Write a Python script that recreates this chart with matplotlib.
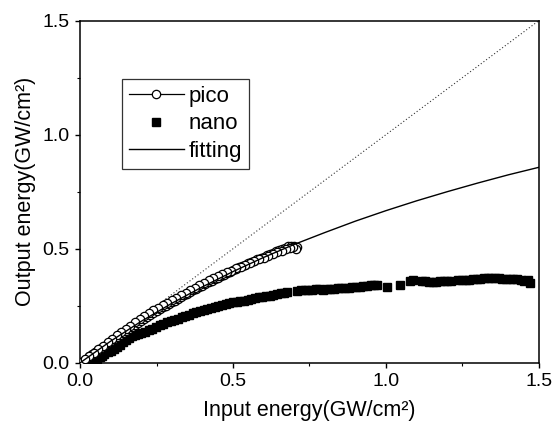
import matplotlib
matplotlib.use("Agg")
import matplotlib.pyplot as plt

# ---------------- data ----------------
pico_x = [0.010, 0.020, 0.030, 0.040, 0.050, 0.060, 0.070, 0.080, 0.090, 0.100,
          0.110, 0.120, 0.130, 0.140, 0.150, 0.160, 0.170, 0.180, 0.190, 0.200,
          0.210, 0.220, 0.230, 0.240, 0.250, 0.260, 0.270, 0.280, 0.290, 0.300,
          0.310, 0.320, 0.330, 0.340, 0.350, 0.360, 0.370, 0.380, 0.390, 0.400,
          0.410, 0.420, 0.430, 0.440, 0.450, 0.460, 0.470, 0.480, 0.490, 0.500,
          0.510, 0.520, 0.530, 0.540, 0.550, 0.560, 0.570, 0.580, 0.590, 0.600,
          0.610, 0.620, 0.630, 0.640, 0.650, 0.660, 0.670, 0.680, 0.690, 0.700,
          0.710,
          0.705, 0.695, 0.685, 0.672, 0.660, 0.645, 0.630, 0.615, 0.600, 0.585,
          0.570, 0.555, 0.540, 0.525, 0.510, 0.495, 0.480, 0.465, 0.450, 0.435,
          0.420, 0.405, 0.390, 0.375, 0.360, 0.345, 0.330, 0.315, 0.300, 0.285,
          0.270, 0.255, 0.240, 0.225, 0.210, 0.195, 0.180, 0.165, 0.150, 0.135,
          0.120, 0.105, 0.090, 0.075, 0.060, 0.045, 0.030, 0.015]
pico_y = [0.008, 0.018, 0.028, 0.038, 0.047, 0.057, 0.066, 0.076, 0.085, 0.094,
          0.104, 0.113, 0.122, 0.131, 0.140, 0.149, 0.158, 0.167, 0.176, 0.185,
          0.193, 0.202, 0.211, 0.219, 0.227, 0.235, 0.243, 0.250, 0.258, 0.266,
          0.273, 0.281, 0.288, 0.296, 0.303, 0.310, 0.318, 0.325, 0.332, 0.339,
          0.346, 0.354, 0.360, 0.367, 0.374, 0.380, 0.386, 0.393, 0.399, 0.405,
          0.411, 0.418, 0.424, 0.430, 0.436, 0.442, 0.448, 0.454, 0.460, 0.466,
          0.472, 0.477, 0.482, 0.488, 0.494, 0.499, 0.505, 0.510, 0.514, 0.512,
          0.506,
          0.500, 0.508, 0.502, 0.498, 0.492, 0.487, 0.478, 0.470, 0.461, 0.455,
          0.445, 0.437, 0.428, 0.420, 0.414, 0.404, 0.396, 0.389, 0.380, 0.370,
          0.362, 0.350, 0.340, 0.330, 0.320, 0.308, 0.298, 0.286, 0.276, 0.264,
          0.254, 0.242, 0.230, 0.218, 0.205, 0.192, 0.178, 0.163, 0.149, 0.134,
          0.120, 0.104, 0.090, 0.075, 0.060, 0.045, 0.030, 0.015]

nano_x = [0.040, 0.048, 0.056, 0.064, 0.072, 0.080, 0.090, 0.100, 0.110, 0.120,
          0.130, 0.140, 0.150, 0.160, 0.170, 0.180, 0.190, 0.200, 0.212, 0.224,
          0.236, 0.248, 0.260, 0.272, 0.284, 0.296, 0.308, 0.320, 0.332, 0.344,
          0.356, 0.368, 0.380, 0.392, 0.404, 0.416, 0.428, 0.440, 0.452, 0.464,
          0.476, 0.488, 0.500, 0.512, 0.524, 0.536, 0.548, 0.560, 0.572, 0.584,
          0.596, 0.608, 0.620, 0.632, 0.644, 0.656, 0.668, 0.678,
          0.710, 0.722, 0.734, 0.746, 0.758, 0.770, 0.782, 0.794, 0.806, 0.818,
          0.830, 0.842, 0.854, 0.866, 0.878, 0.890, 0.902, 0.914, 0.926, 0.938,
          0.950, 0.962, 0.972,
          1.004, 1.046, 1.080, 1.088,
          1.118, 1.128, 1.140, 1.152, 1.164, 1.176, 1.188, 1.200, 1.212,
          1.236, 1.248, 1.260, 1.272, 1.284, 1.296, 1.308, 1.320, 1.332, 1.344,
          1.356, 1.368, 1.380, 1.392, 1.404, 1.416, 1.428, 1.440, 1.452, 1.464,
          1.472]
nano_y = [0.003, 0.010, 0.017, 0.024, 0.031, 0.038, 0.046, 0.054, 0.062, 0.071,
          0.080, 0.090, 0.100, 0.109, 0.116, 0.121, 0.126, 0.130, 0.136, 0.142,
          0.149, 0.157, 0.165, 0.172, 0.178, 0.183, 0.188, 0.193, 0.199, 0.205,
          0.211, 0.217, 0.223, 0.228, 0.233, 0.238, 0.241, 0.245, 0.250, 0.255,
          0.259, 0.262, 0.265, 0.267, 0.270, 0.273, 0.277, 0.281, 0.284, 0.287,
          0.290, 0.293, 0.295, 0.298, 0.301, 0.305, 0.307, 0.309,
          0.316, 0.318, 0.320, 0.320, 0.321, 0.322, 0.322, 0.321, 0.323, 0.325,
          0.324, 0.326, 0.328, 0.327, 0.330, 0.332, 0.333, 0.334, 0.336, 0.338,
          0.340, 0.341, 0.340,
          0.334, 0.341, 0.357, 0.365,
          0.357, 0.360, 0.356, 0.354, 0.356, 0.358, 0.360, 0.358, 0.357,
          0.362, 0.364, 0.363, 0.365, 0.366, 0.366, 0.368, 0.370, 0.372, 0.371,
          0.372, 0.370, 0.369, 0.368, 0.368, 0.367, 0.367, 0.362, 0.358, 0.362,
          0.352]

fit_x = [0.0, 0.1, 0.2, 0.3, 0.4, 0.5, 0.6, 0.7, 0.8, 0.9, 1.0, 1.1, 1.2, 1.3, 1.4, 1.5]
fit_y = [0.0, 0.095, 0.182, 0.261, 0.333, 0.400, 0.462, 0.519, 0.571, 0.621,
         0.667, 0.710, 0.750, 0.788, 0.824, 0.857]

ref_x = [0.0, 1.5]
ref_y = [0.0, 1.5]

xticks = [0.0, 0.5, 1.0, 1.5]
yticks = [0.0, 0.5, 1.0, 1.5]
tick_labels = ["0.0", "0.5", "1.0", "1.5"]

# ---------------- figure ----------------
plt.rcParams['font.family'] = ['Liberation Sans', 'DejaVu Sans']

fig = plt.figure(figsize=(5.56, 4.32), dpi=100)
ax = fig.add_axes([0.1439, 0.160, 0.8255, 0.7925])

ax.plot(ref_x, ref_y, linestyle=(0, (1, 2)), color='#333333', lw=0.8, zorder=1)
ax.plot(pico_x, pico_y, color='black', lw=0.9, marker='o', ms=6.0,
        mfc='white', mec='black', mew=0.9, label='pico', zorder=3)
ax.plot(nano_x, nano_y, linestyle='none', marker='s', ms=5.6,
        mfc='black', mec='black', label='nano', zorder=2)
ax.plot(fit_x, fit_y, color='black', lw=1.0, label='fitting', zorder=4)

ax.set_xlim(0, 1.5)
ax.set_ylim(0, 1.5)
ax.set_xticks(xticks)
ax.set_xticklabels(tick_labels)
ax.set_yticks(yticks)
ax.set_yticklabels(tick_labels)
ax.set_xticks([0.25, 0.75, 1.25], minor=True)
ax.set_yticks([0.25, 0.75, 1.25], minor=True)
ax.tick_params(which='major', direction='out', length=3.5, width=1.0,
               labelsize=14, pad=4, top=False, right=False)
ax.tick_params(which='minor', direction='out', length=2.2, width=0.8,
               top=False, right=False)
for s in ax.spines.values():
    s.set_linewidth(1.1)

ax.set_xlabel('Input energy(GW/cm²)', fontsize=15.5, labelpad=7)
ax.set_ylabel('Output energy(GW/cm²)', fontsize=15.5, labelpad=5)

leg = ax.legend(loc='upper left', bbox_to_anchor=(0.0915, 0.829),
                fontsize=16, frameon=True, fancybox=False, edgecolor='black',
                handlelength=2.5, handletextpad=0.2, borderpad=0.3,
                labelspacing=0.3, borderaxespad=0.0)
leg.get_frame().set_linewidth(0.9)

fig.savefig('out.png', dpi=100)
